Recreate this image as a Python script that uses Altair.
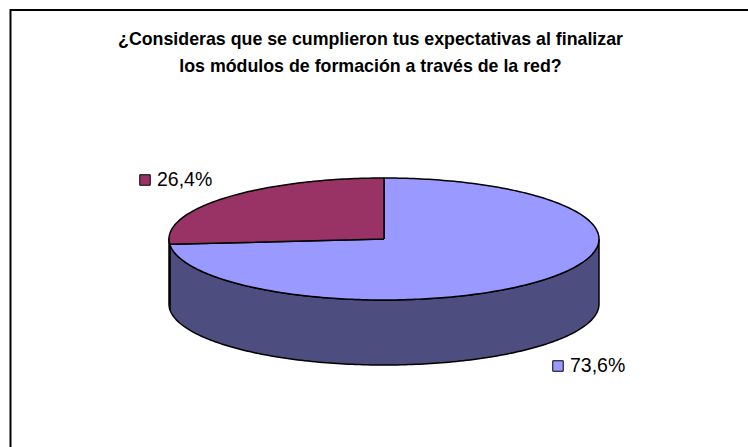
import math
import altair as alt
import pandas as pd

# ---- data ----
title_lines = ["¿Consideras que se cumplieron tus expectativas al finalizar",
               "los módulos de formación a través de la red?"]
categories = ["Sí", "No"]
values = [73.6, 26.4]
top_colors = ["#9999FF", "#993366"]
side_colors = ["#4D4D80", "#4D1A33"]

# ---- layout (pixel space) ----
W, H = 748, 447
CX, CY, RX, RY, DEPTH = 384, 239, 215, 61, 65
label_pos = {"Sí": (570, 366), "No": (157, 180)}
FONT = "Liberation Sans"


def pt(theta_deg, drop=0.0):
    t = math.radians(theta_deg)
    return CX + RX * math.sin(t), CY - RY * math.cos(t) + drop


total = sum(values)
top_layers = []
side_layers = []
xs = alt.Scale(domain=[0, W], nice=False, zero=False)
ys = alt.Scale(domain=[0, H], nice=False, zero=False, reverse=True)

start = 0.0
for cat, v, tc, sc in zip(categories, values, top_colors, side_colors):
    end = start + v / total * 360.0
    n = max(2, int((end - start) / 1.0))
    pts = [(CX, CY)] + [pt(start + (end - start) * i / n) for i in range(n + 1)] + [(CX, CY)]
    df = pd.DataFrame({"x": [p[0] for p in pts], "y": [p[1] for p in pts],
                       "i": list(range(len(pts))), "cat": cat})
    top_layers.append(
        alt.Chart(df).mark_line(fill=tc, stroke="black", strokeWidth=1.5,
                                strokeJoin="round", interpolate="linear")
        .encode(x=alt.X("x:Q", scale=xs, axis=None),
                y=alt.Y("y:Q", scale=ys, axis=None),
                order="i:Q")
    )
    a, b = max(start, 90.0), min(end, 270.0)
    if b > a:
        m = max(2, int((b - a) / 1.0))
        upper = [pt(a + (b - a) * i / m) for i in range(m + 1)]
        lower = [pt(a + (b - a) * i / m, DEPTH) for i in range(m, -1, -1)]
        sp = upper + lower + [upper[0]]
        sdf = pd.DataFrame({"x": [p[0] for p in sp], "y": [p[1] for p in sp],
                            "i": list(range(len(sp))), "cat": cat})
        side_layers.append(
            alt.Chart(sdf).mark_line(fill=sc, stroke="black", strokeWidth=1.5,
                                     strokeJoin="round")
            .encode(x=alt.X("x:Q", scale=xs, axis=None),
                    y=alt.Y("y:Q", scale=ys, axis=None),
                    order="i:Q")
        )
    start = end

lab_df = pd.DataFrame({
    "cat": categories,
    "label": [f"{v:.1f}".replace(".", ",") + "%" for v in values],
    "tx": [label_pos[c][0] for c in categories],
    "ty": [label_pos[c][1] for c in categories],
    "sx": [label_pos[c][0] - 12 for c in categories],
    "color": top_colors,
})

keys = alt.Chart(lab_df).mark_square(size=110, stroke="black", strokeWidth=1, opacity=1).encode(
    x=alt.X("sx:Q", scale=xs, axis=None),
    y=alt.Y("ty:Q", scale=ys, axis=None),
    fill=alt.Fill("color:N", scale=None),
)
labels = alt.Chart(lab_df).mark_text(align="left", baseline="middle", font=FONT,
                                     fontSize=19.5, color="black").encode(
    x=alt.X("tx:Q", scale=xs, axis=None),
    y=alt.Y("ty:Q", scale=ys, axis=None),
    text="label:N",
)

title_df = pd.DataFrame({"line": title_lines, "tx": [370.5, 370.5], "ty": [40, 67]})
title = alt.Chart(title_df).mark_text(align="center", baseline="middle", font=FONT,
                                      fontSize=17.8, fontWeight="bold", color="black").encode(
    x=alt.X("tx:Q", scale=xs, axis=None),
    y=alt.Y("ty:Q", scale=ys, axis=None),
    text="line:N",
)

frame = alt.Chart(pd.DataFrame({"k": [0]})).mark_rect(
    fill=None, stroke="black", strokeWidth=2).encode(
    x=alt.value(10.5), x2=alt.value(770), y=alt.value(10), y2=alt.value(470)
)

chart = alt.layer(*side_layers, *top_layers, keys, labels, title, frame).properties(
    width=W, height=H, padding=0, autosize=alt.AutoSizeParams(type="none")
).configure_view(stroke=None)

chart.save("out.html", embed_options={"renderer": "svg", "actions": False})
